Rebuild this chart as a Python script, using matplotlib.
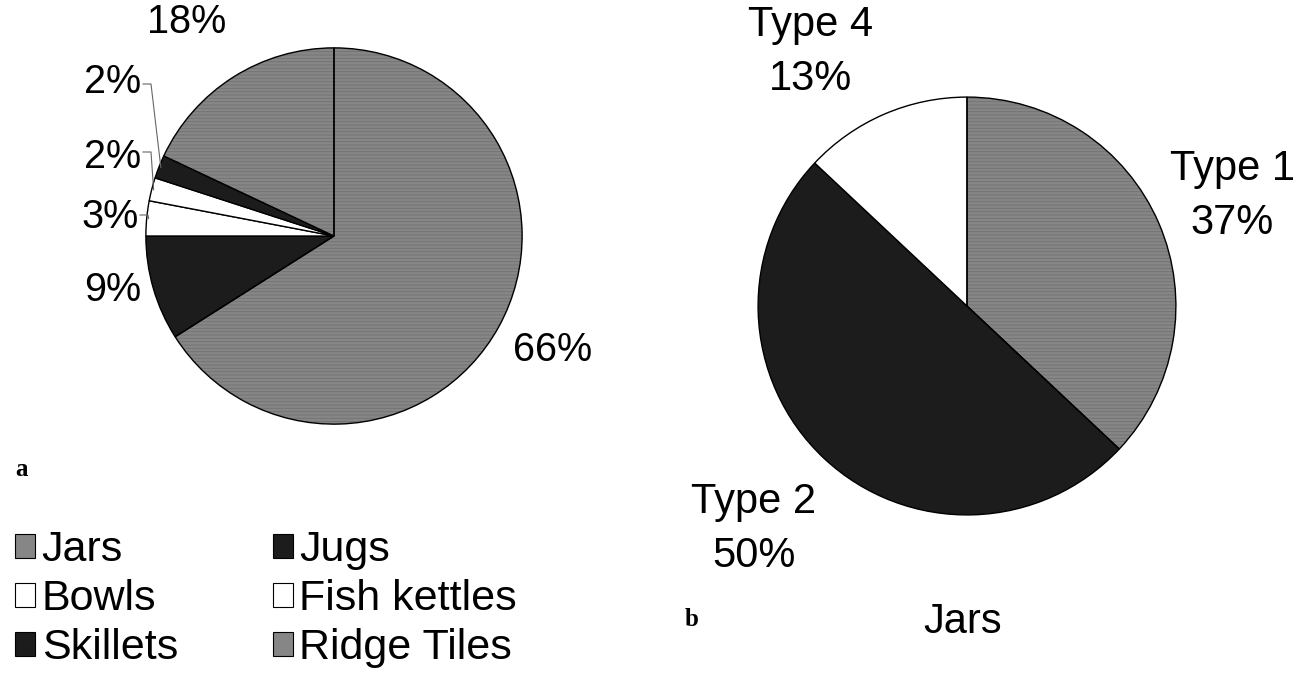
import matplotlib.pyplot as plt
from matplotlib.patches import Patch, Wedge
import numpy as np

plt.rcParams['font.family'] = ['Liberation Sans', 'DejaVu Sans']

# panel a: vessel forms
forms = ['Jars', 'Jugs', 'Bowls', 'Fish kettles', 'Skillets', 'Ridge Tiles']
form_pct = [66, 9, 3, 2, 2, 18]
form_colors = ['#868686', '#1c1c1c', 'white', 'white', '#1c1c1c', '#868686']
form_hatch = ['-----', '', '', '', '', '-----']

# panel b: jar types
jar_types = ['Type 1', 'Type 2', 'Type 4']
jar_pct = [37, 50, 13]
jar_colors = ['#868686', '#1c1c1c', 'white']
jar_hatch = ['-----', '', '']

W, H = 1311, 673
fig = plt.figure(figsize=(W / 100, H / 100), dpi=100)
fig.patch.set_facecolor('white')
plt.rcParams['hatch.linewidth'] = 0.6


def px_axes(cx, cy, r):
    return fig.add_axes([(cx - r) / W, 1 - (cy + r) / H, 2 * r / W, 2 * r / H])


def draw_pie(ax, vals, colors, hatches):
    wedges, _ = ax.pie(vals, colors=colors, startangle=90, counterclock=False,
                       wedgeprops=dict(edgecolor='black', linewidth=1.0))
    for w, h in zip(wedges, hatches):
        if h:
            # grey hatch lines for the texture, black outline drawn on top
            w.set_hatch(h)
            w.set_edgecolor('#727272')
            w.set_linewidth(0)
            ax.add_patch(Wedge(w.center, w.r, w.theta1, w.theta2,
                               fill=False, edgecolor='black', linewidth=1.0))
    ax.set_aspect('equal')
    ax.set_xlim(-1.01, 1.01)
    ax.set_ylim(-1.01, 1.01)
    ax.axis('off')
    return wedges


ax1 = px_axes(334, 236, 190)
w1 = draw_pie(ax1, form_pct, form_colors, form_hatch)

ax2 = px_axes(967, 306, 211)
w2 = draw_pie(ax2, jar_pct, jar_colors, jar_hatch)

fs = 28.5
# labels of panel a
lab_a = [(553, 350), (113, 290), (110, 217), (113, 157), (113, 82), (187, 22)]
for (x, y), v in zip(lab_a, form_pct):
    fig.text(x / W, 1 - y / H, f'{v}%', fontsize=fs, ha='center', va='center')

# leader lines to the small slices
for i, (lx, ly) in zip([2, 3, 4], [(140, 215), (143, 152), (143, 84)]):
    w = w1[i]
    ang = np.deg2rad((w.theta1 + w.theta2) / 2)
    tip = ax1.transData.transform((np.cos(ang) * 0.99, np.sin(ang) * 0.99))
    tx, ty = tip[0] / W, tip[1] / H
    pts = [(lx / W, 1 - ly / H), ((lx + 8) / W, 1 - ly / H), (tx, ty)]
    xs, ys = zip(*pts)
    fig.add_artist(plt.Line2D(xs, ys, color='#666666', linewidth=0.8))

# labels of panel b
lab_b = [(1232, 196), (754, 529), (811, 52)]
for (x, y), name, v in zip(lab_b, jar_types, jar_pct):
    fig.text(x / W, 1 - y / H, f'{name}\n{v}%', fontsize=30, ha='center', va='center',
             linespacing=1.45)

fig.text(963 / W, 1 - 622 / H, 'Jars', fontsize=30, ha='center', va='center')
fig.text(15 / W, 1 - 470 / H, 'a', fontsize=18, fontweight='bold', family='Liberation Serif',
         ha='left', va='center')
fig.text(685 / W, 1 - 620 / H, 'b', fontsize=18, fontweight='bold', family='Liberation Serif',
         ha='left', va='center')

# legend, column-major order
order = [0, 2, 4, 1, 3, 5]
handles = [Patch(facecolor=form_colors[i], edgecolor='black',
                 linewidth=0.8, label=forms[i]) for i in order]
fig.legend(handles=handles, ncol=2, loc='upper left', bbox_to_anchor=(15 / W, 1 - 530 / H),
           frameon=False, fontsize=31, handlelength=0.47, handleheight=0.47,
           handletextpad=0.15, labelspacing=0.21, columnspacing=2.2,
           borderpad=0, borderaxespad=0)

fig.savefig('out.png', dpi=100, facecolor='white')
